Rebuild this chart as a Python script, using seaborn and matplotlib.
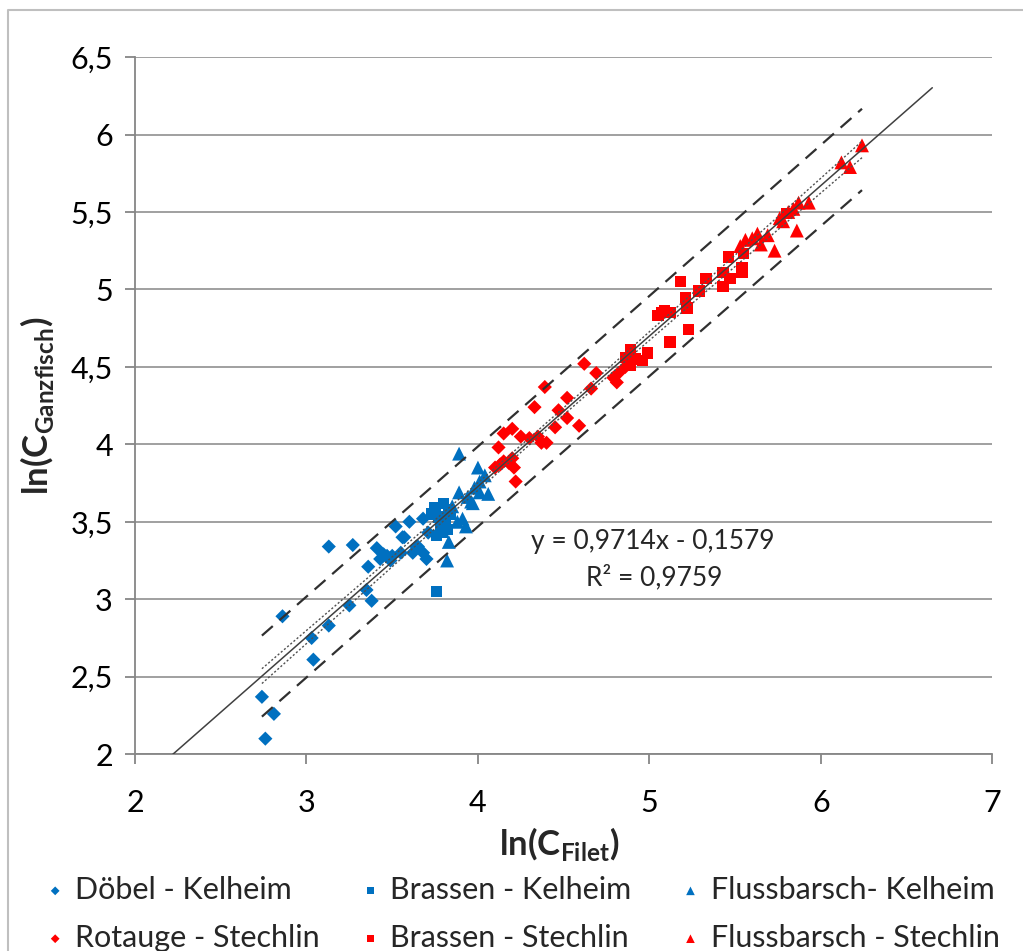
import numpy as np
import pandas as pd
import matplotlib.pyplot as plt
import seaborn as sns
from matplotlib.ticker import FuncFormatter
from matplotlib.lines import Line2D

# ---- data ----
doebel_k_x = [2.76, 2.74, 2.81, 2.86, 3.04, 3.03, 3.13, 3.13, 3.27, 3.25, 3.38, 3.35, 3.36, 3.41,
              3.47, 3.49, 3.52, 3.55, 3.43, 3.57, 3.60, 3.68, 3.65, 3.68, 3.70, 3.71, 3.56, 3.64,
              3.62, 3.45, 3.50]
doebel_k_y = [2.10, 2.37, 2.26, 2.89, 2.61, 2.75, 2.83, 3.34, 3.35, 2.96, 2.99, 3.06, 3.21, 3.33,
              3.28, 3.25, 3.47, 3.30, 3.26, 3.40, 3.50, 3.52, 3.34, 3.30, 3.26, 3.43, 3.40, 3.34,
              3.30, 3.29, 3.28]

brassen_k_x = [3.75, 3.80, 3.83, 3.77, 3.80, 3.78, 3.81, 3.76, 3.79, 3.82, 3.73, 3.76, 3.84]
brassen_k_y = [3.59, 3.62, 3.58, 3.53, 3.51, 3.47, 3.48, 3.41, 3.43, 3.45, 3.55, 3.05, 3.55]

barsch_k_x = [3.89, 4.00, 4.04, 4.06, 4.01, 3.96, 3.89, 3.94, 3.97, 3.91, 3.93, 3.88, 3.83, 3.82,
              4.01, 3.85, 3.98]
barsch_k_y = [3.94, 3.85, 3.80, 3.68, 3.69, 3.63, 3.69, 3.66, 3.62, 3.52, 3.47, 3.50, 3.37, 3.25,
              3.76, 3.60, 3.72]

rotauge_s_x = [4.22, 4.10, 4.15, 4.20, 4.21, 4.12, 4.15, 4.20, 4.25, 4.30, 4.35, 4.37, 4.40, 4.33,
               4.39, 4.47, 4.52, 4.52, 4.45, 4.59, 4.62, 4.69, 4.66, 4.81, 4.18, 4.13, 4.82,
               4.86, 4.79]
rotauge_s_y = [3.76, 3.85, 3.89, 3.91, 3.85, 3.98, 4.07, 4.10, 4.05, 4.04, 4.05, 4.01, 4.01, 4.24,
               4.37, 4.22, 4.30, 4.17, 4.11, 4.12, 4.52, 4.46, 4.36, 4.40, 3.88, 3.87, 4.46,
               4.50, 4.43]

brassen_s_x = [4.89, 4.96, 4.99, 4.89, 5.12, 5.23, 5.07, 5.12, 5.22, 5.21, 5.18, 5.29, 5.33, 5.43,
               5.43, 5.47, 5.46, 5.54, 5.54, 5.55, 4.86, 5.05, 4.92, 5.09, 5.80]
brassen_s_y = [4.61, 4.54, 4.59, 4.51, 4.66, 4.74, 4.85, 4.85, 4.88, 4.95, 5.05, 4.99, 5.07, 5.02,
               5.11, 5.07, 5.21, 5.11, 5.14, 5.23, 4.56, 4.83, 4.55, 4.86, 5.49]

barsch_s_x = [5.56, 5.63, 5.69, 5.65, 5.73, 5.76, 5.81, 5.87, 5.93, 5.86, 5.78, 5.84, 6.12, 6.17,
              6.24, 5.53, 5.60]
barsch_s_y = [5.32, 5.36, 5.35, 5.29, 5.25, 5.46, 5.50, 5.56, 5.56, 5.38, 5.44, 5.52, 5.82, 5.79,
              5.93, 5.28, 5.33]

slope, intercept, r2 = 0.9714, -0.1579, 0.9759

BLUE = '#0070C0'
RED = '#FF0000'

series = [
    ('Döbel - Kelheim', doebel_k_x, doebel_k_y, 'D', BLUE, 52),
    ('Brassen - Kelheim', brassen_k_x, brassen_k_y, 's', BLUE, 66),
    ('Flussbarsch- Kelheim', barsch_k_x, barsch_k_y, '^', BLUE, 100),
    ('Rotauge - Stechlin', rotauge_s_x, rotauge_s_y, 'D', RED, 52),
    ('Brassen - Stechlin', brassen_s_x, brassen_s_y, 's', RED, 66),
    ('Flussbarsch - Stechlin', barsch_s_x, barsch_s_y, '^', RED, 100),
]

'''Plot Setting'''
sns.set_style('white')
plt.rcParams['font.family'] = ['Lato', 'DejaVu Sans']
plt.rcParams['mathtext.fontset'] = 'custom'
plt.rcParams['mathtext.rm'] = 'Lato'
plt.rcParams['mathtext.bf'] = 'Lato:bold'

fig, ax = plt.subplots(figsize=(10.23, 9.51), dpi=100)
fig.subplots_adjust(left=0.132, right=0.970, bottom=0.207, top=0.940)

for name, xs, ys, mk, col, size in series:
    sns.scatterplot(x=xs, y=ys, marker=mk, color=col, s=size, edgecolor='none',
                    label=name, ax=ax, zorder=3)

# regression line and bands
all_x = np.concatenate([s[1] for s in series])
all_y = np.concatenate([s[2] for s in series])
n = len(all_x)
resid = all_y - (slope * all_x + intercept)
s_res = np.sqrt(np.sum(resid ** 2) / (n - 2))
xm = all_x.mean()
sxx = np.sum((all_x - xm) ** 2)
t = 1.98
xg = np.linspace(all_x.min(), all_x.max(), 200)
yg = slope * xg + intercept
ci = t * s_res * np.sqrt(1 / n + (xg - xm) ** 2 / sxx)
pi = t * s_res * np.sqrt(1 + 1 / n + (xg - xm) ** 2 / sxx)

xl = np.array([2.0, 6.65])
ax.plot(xl, slope * xl + intercept, color='#404040', lw=1.1, zorder=4)
for sign in (1, -1):
    ax.plot(xg, yg + sign * pi, color='#303030', lw=1.6, ls=(0, (6.5, 4)), zorder=4)
    ax.plot(xg, yg + sign * ci, color='#505050', lw=1.0, ls=(0, (1.5, 1.5)), zorder=4)

ax.text(5.02, 3.375, 'y = 0,9714x - 0,1579', ha='center', va='center', fontsize=19)
ax.text(5.03, 3.14, 'R² = 0,9759', ha='center', va='center', fontsize=19)

ax.set_xlim(2, 7)
ax.set_ylim(2, 6.5)
ax.set_xticks(np.arange(2, 8, 1))
ax.set_yticks(np.arange(2, 6.51, 0.5))
fmt = FuncFormatter(lambda v, p: f'{v:g}'.replace('.', ','))
ax.xaxis.set_major_formatter(fmt)
ax.yaxis.set_major_formatter(fmt)
ax.tick_params(axis='both', labelsize=22, colors='#868686', labelcolor='black',
               direction='out', length=7, width=1.3, left=True, bottom=True)
ax.tick_params(axis='y', pad=9)
ax.tick_params(axis='x', pad=18)

ax.grid(axis='y', color='#a0a0a0', lw=1.4)
ax.grid(axis='x', visible=False)
ax.set_axisbelow(True)
for side in ('top', 'right'):
    ax.spines[side].set_visible(False)
for side in ('left', 'bottom'):
    ax.spines[side].set_color('#868686')
    ax.spines[side].set_linewidth(1.3)

ax.set_xlabel(r'ln(C$_{\mathbf{Filet}}$)', fontsize=25, fontweight='bold')
ax.set_ylabel(r'ln(C$_{\mathbf{Ganzfisch}}$)', fontsize=25, fontweight='bold')
ax.xaxis.set_label_coords(0.495, -0.101)
ax.yaxis.set_label_coords(-0.092, 0.50)

# legend below: one small legend per column so each column sits where the original has it
handles, labels = ax.get_legend_handles_labels()
ax.get_legend().remove()
col_x = [0.039, 0.347, 0.660]
for c, x0 in enumerate(col_x):
    idx = [c, c + 3]
    fig.legend([handles[i] for i in idx], [labels[i] for i in idx],
               loc='upper left', bbox_to_anchor=(x0, 0.079), ncol=1, frameon=False,
               fontsize=22, markerscale=0.62, handletextpad=0.16, labelspacing=0.65,
               handlelength=1.0, borderpad=0, borderaxespad=0)

# outer chart frame
fig.add_artist(Line2D([0.0078, 0.0078, 1.0], [0.0, 0.9895, 0.9895], transform=fig.transFigure,
                      color='#bfbfbf', lw=1.5))

plt.savefig('out.png', dpi=100)
